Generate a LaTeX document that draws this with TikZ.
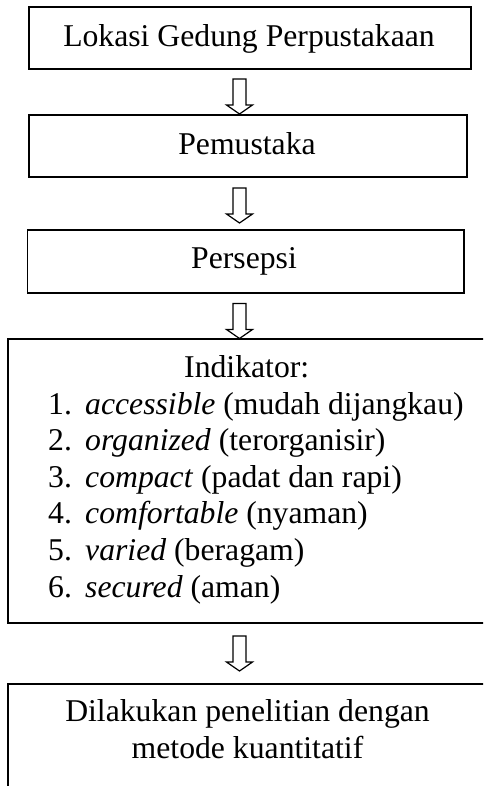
\documentclass[tikz,border=0pt]{standalone}
\usepackage{fontspec}
\setmainfont{Liberation Serif}
\begin{document}
\begin{tikzpicture}[x=1pt,y=-1pt,
  box/.style={draw, line width=1.6pt, inner sep=0pt, anchor=north west},
  txt/.style={inner sep=0pt, anchor=base, font=\fontsize{31.7}{36.6}\selectfont},
  item/.style={inner sep=0pt, anchor=base west, font=\fontsize{31.7}{36.6}\selectfont},
  hollowarrow/.style={draw, line width=1.2pt, fill=white, line join=miter},
  downarrow/.pic={\draw[hollowarrow] (-6.5,0) -- (6.5,0) -- (6.5,26) -- (13,26) -- (0,35) -- (-13,26) -- (-6.5,26) -- cycle;}]
\useasboundingbox (0,0) rectangle (483,786);
\clip (0,0) rectangle (483,786);
\fill[white] (0,0) rectangle (483,786);
% boxes
\node[box, minimum width=442pt, minimum height=62pt] (b1) at (28,6) {};
\node[box, minimum width=438pt, minimum height=62pt] (b2) at (28,114) {};
\node[box, minimum width=436.5pt, minimum height=63pt] (b3) at (26.5,229) {};
\node[box, minimum width=490pt, minimum height=284pt] (b4) at (7,338) {};
\node[box, minimum width=490pt, minimum height=130pt] (b5) at (7,683) {};
% texts
\node[txt] (t1) at (249,46.7) {Lokasi Gedung Perpustakaan};
\node[txt] (t2) at (247,155) {Pemustaka};
\node[txt] (t3) at (244,268) {Persepsi};
\node[txt] (t4) at (246.7,377.5) {Indikator:};
\node[item] (i1) at (48,414.1) {\makebox[37pt][l]{1.}\textit{accessible} (mudah dijangkau)};
\node[item] (i2) at (48,450.7) {\makebox[37pt][l]{2.}\textit{organized} (terorganisir)};
\node[item] (i3) at (48,487.3) {\makebox[37pt][l]{3.}\textit{compact} (padat dan rapi)};
\node[item] (i4) at (48,523.9) {\makebox[37pt][l]{4.}\textit{comfortable} (nyaman)};
\node[item] (i5) at (48,560.5) {\makebox[37pt][l]{5.}\textit{varied} (beragam)};
\node[item] (i6) at (48,597.1) {\makebox[37pt][l]{6.}\textit{secured} (aman)};
\node[txt] (t5a) at (247.5,721.7) {Dilakukan penelitian dengan};
\node[txt] (t5b) at (247.5,758.3) {metode kuantitatif};
% block arrows
\pic (a1) at (239.5,79) {downarrow};
\pic (a2) at (239.5,188) {downarrow};
\pic (a3) at (239.5,303.5) {downarrow};
\pic (a4) at (239.5,636) {downarrow};
\end{tikzpicture}
\end{document}
